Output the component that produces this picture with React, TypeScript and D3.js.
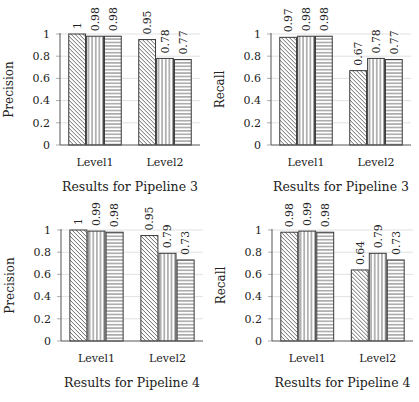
import React from 'react';
import * as d3 from 'd3';

// chart values
const levels = ['Level1', 'Level2'];
const yTicks = [0, 0.2, 0.4, 0.6, 0.8, 1];
// three bars per level (diagonal, vertical, horizontal hatch)
const precisionP3 = [[1, 0.98, 0.98], [0.95, 0.78, 0.77]];
const recallP3 = [[0.97, 0.98, 0.98], [0.67, 0.78, 0.77]];
const precisionP4 = [[1, 0.99, 0.98], [0.95, 0.79, 0.73]];
const recallP4 = [[0.98, 0.99, 0.98], [0.64, 0.79, 0.73]];
const valueLabels = (v: number) => (v === 1 ? '1' : String(v));

// layout of the four small charts
const panels = [
  { values: precisionP3, yLabel: 'Precision', title: 'Results for Pipeline 3', left: 60, right: 200, top: 34, bottom: 145 },
  { values: recallP3, yLabel: 'Recall', title: 'Results for Pipeline 3', left: 271, right: 411, top: 34, bottom: 145 },
  { values: precisionP4, yLabel: 'Precision', title: 'Results for Pipeline 4', left: 61, right: 203, top: 230, bottom: 341 },
  { values: recallP4, yLabel: 'Recall', title: 'Results for Pipeline 4', left: 272, right: 413, top: 230, bottom: 341 },
];

const FONT = '"DejaVu Serif", serif';
const patternIds = ['hatchDiag', 'hatchVert', 'hatchHorz'];

const Panel = ({ p }: { p: (typeof panels)[number] }) => {
  const x0 = d3.scaleBand<string>().domain(levels).range([p.left, p.right]).paddingInner(0.25).paddingOuter(0.125);
  const x1 = d3.scaleBand<number>().domain([0, 1, 2]).range([0, x0.bandwidth()]).paddingInner(0.06);
  const y = d3.scaleLinear().domain([0, 1]).range([p.bottom, p.top]);
  const midY = (p.top + p.bottom) / 2;

  return (
    <g>
      {/* grid + ticks */}
      {yTicks.map((t) => (
        <g key={t}>
          {t > 0 && <line x1={p.left} x2={p.right} y1={y(t)} y2={y(t)} stroke="#d9d9d9" strokeWidth={0.8} />}
          <line x1={p.left - 4} x2={p.left} y1={y(t)} y2={y(t)} stroke="#999" strokeWidth={0.8} />
          <text x={p.left - 10} y={y(t)} dy="0.35em" textAnchor="end" fontSize={11} fontFamily={FONT} fill="#222">
            {d3.format('~g')(t)}
          </text>
        </g>
      ))}
      {/* bars */}
      {levels.map((lv, i) => (
        <g key={lv} transform={`translate(${x0(lv)},0)`}>
          {p.values[i].map((v, j) => {
            const bx = x1(j)!;
            const bw = x1.bandwidth();
            return (
              <g key={j}>
                <rect x={bx} y={y(v)} width={bw} height={y(0) - y(v)} fill={`url(#${patternIds[j]})`} stroke="#3a3a3a" strokeWidth={1} />
                <text
                  transform={`translate(${bx + bw / 2},${y(v) - 5}) rotate(-90)`}
                  dy="0.35em"
                  fontSize={10.8}
                  fontFamily={FONT}
                  fill="#222"
                >
                  {valueLabels(v)}
                </text>
              </g>
            );
          })}
          <text x={x0.bandwidth() / 2} y={p.bottom + 21} textAnchor="middle" fontSize={11} fontFamily={FONT} fill="#222">
            {lv}
          </text>
        </g>
      ))}
      {/* axes */}
      <line x1={p.left} x2={p.left} y1={p.top - 1} y2={p.bottom} stroke="#555" strokeWidth={1} />
      <line x1={p.left} x2={p.right} y1={p.bottom} y2={p.bottom} stroke="#555" strokeWidth={1} />
      <text
        transform={`translate(${p.left - 51},${midY}) rotate(-90)`}
        dy="0.35em"
        textAnchor="middle"
        fontSize={12}
        fontFamily={FONT}
        fill="#222"
      >
        {p.yLabel}
      </text>
      <text x={(p.left + p.right) / 2} y={p.bottom + 46} textAnchor="middle" fontSize={12.5} fontFamily={FONT} fill="#222">
        {p.title}
      </text>
    </g>
  );
};

export default function App() {
  return (
    <svg width={419} height={402} style={{ position: 'absolute', left: 0, top: 0, background: '#fff' }}>
      <defs>
        <pattern id="hatchDiag" patternUnits="userSpaceOnUse" width={4} height={4}>
          <rect width={4} height={4} fill="#fff" />
          <path d="M-1,-1 L5,5 M-1,3 L1,5 M3,-1 L5,1" stroke="#444" strokeWidth={0.8} />
        </pattern>
        <pattern id="hatchVert" patternUnits="userSpaceOnUse" width={3.6} height={4}>
          <rect width={3.6} height={4} fill="#fff" />
          <path d="M1.8,0 L1.8,4" stroke="#444" strokeWidth={0.8} />
        </pattern>
        <pattern id="hatchHorz" patternUnits="userSpaceOnUse" width={4} height={3.4}>
          <rect width={4} height={3.4} fill="#fff" />
          <path d="M0,1.7 L4,1.7" stroke="#444" strokeWidth={0.8} />
        </pattern>
      </defs>
      {panels.map((p, i) => (
        <Panel key={i} p={p} />
      ))}
    </svg>
  );
}
